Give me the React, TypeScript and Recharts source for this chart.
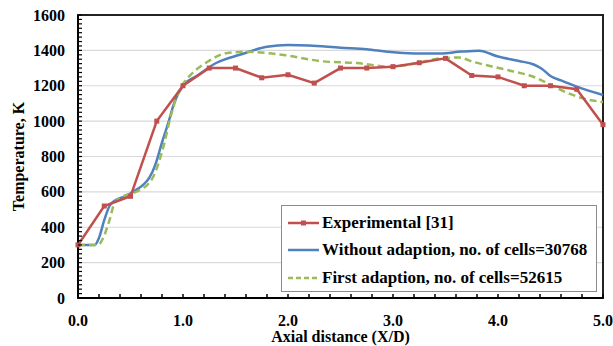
import {
  LineChart,
  Line,
  XAxis,
  YAxis,
  CartesianGrid,
  Legend,
  ReferenceArea,
} from "recharts";

const SERIF = '"Liberation Serif", "Times New Roman", serif';
const RED = "#c0504d";
const BLUE = "#4f81bd";
const GREEN = "#9bbb59";

// Experimental [31]
const expX = [0, 0.25, 0.5, 0.75, 1.0, 1.25, 1.5, 1.75, 2.0, 2.25, 2.5, 2.75, 3.0, 3.25, 3.5, 3.75, 4.0, 4.25, 4.5, 4.75, 5.0];
const expT = [300, 520, 575, 1000, 1200, 1300, 1300, 1245, 1262, 1215, 1300, 1300, 1308, 1330, 1355, 1258, 1250, 1200, 1200, 1180, 980];

// Without adaption, no. of cells=30768
const noAdaptX = [0, 0.16, 0.2, 0.25, 0.3, 0.35, 0.45, 0.55, 0.62, 0.68, 0.74, 0.8, 0.86, 0.92, 1.0, 1.13, 1.32, 1.54, 1.8, 2.0, 2.2, 2.5, 2.75, 2.95, 3.2, 3.45, 3.65, 3.82, 4.0, 4.2, 4.34, 4.42, 4.5, 4.6, 4.75, 5.0];
const noAdaptT = [300, 300, 340, 440, 520, 550, 575, 610, 640, 680, 760, 880, 990, 1110, 1200, 1255, 1330, 1375, 1420, 1430, 1428, 1415, 1407, 1392, 1382, 1383, 1393, 1398, 1365, 1340, 1320, 1295, 1255, 1230, 1195, 1148];

// First adaption, no. of cells=52615
const firstAdaptX = [0, 0.19, 0.24, 0.3, 0.35, 0.45, 0.53, 0.6, 0.66, 0.72, 0.76, 0.82, 0.88, 0.94, 1.0, 1.07, 1.23, 1.42, 1.6, 1.8, 2.0, 2.33, 2.66, 2.97, 3.1, 3.23, 3.45, 3.62, 3.77, 4.09, 4.37, 4.5, 4.66, 4.8, 5.0];
const firstAdaptT = [300, 300, 340, 440, 540, 580, 595, 615, 640, 690, 750, 870, 1020, 1136, 1210, 1260, 1334, 1385, 1392, 1385, 1370, 1338, 1328, 1308, 1315, 1328, 1355, 1360, 1334, 1289, 1243, 1205, 1160, 1130, 1108];

const xTicks = [0, 1, 2, 3, 4, 5];
const yTicks = [0, 200, 400, 600, 800, 1000, 1200, 1400, 1600];
// minor tick positions (labels only on the major values above)
const xMinor = Array.from({ length: 26 }, (_, i) => Math.round(i * 2) / 10);
const yMinor = Array.from({ length: 65 }, (_, i) => i * 25);

const legendItems = [
  { label: "Experimental [31]", color: RED, dash: undefined, marker: true },
  { label: "Without adaption, no. of cells=30768", color: BLUE, dash: undefined, marker: false },
  { label: "First adaption, no. of cells=52615", color: GREEN, dash: "5 3", marker: false },
];

const toRows = (xs: number[], ts: number[]) => xs.map((x, i) => ({ x, t: ts[i] }));
const expData = toRows(expX, expT);
const noAdaptData = toRows(noAdaptX, noAdaptT);
const firstAdaptData = toRows(firstAdaptX, firstAdaptT);

const axisFont = { fill: "#000", fontSize: 16, fontWeight: "bold", fontFamily: SERIF };

function SquareDot(props: any) {
  const { cx, cy, index } = props;
  if (cx == null || cy == null) return null;
  return <rect key={index} x={cx - 2.5} y={cy - 2.5} width={5} height={5} fill={RED} />;
}

function XTick(props: any) {
  const { x, y, payload } = props;
  const v = payload.value as number;
  const major = xTicks.some((t) => Math.abs(t - v) < 1e-6);
  return (
    <g>
      <line x1={x} y1={y} x2={x} y2={y - 4} stroke="#000" strokeWidth={1.5} />
      {major && (
        <text x={x} y={y + 28} textAnchor="middle" {...axisFont}>
          {v.toFixed(1)}
        </text>
      )}
    </g>
  );
}

function YTick(props: any) {
  const { x, y, payload } = props;
  const v = payload.value as number;
  const major = yTicks.includes(v);
  return (
    <g>
      <line x1={x} y1={y} x2={x + 4} y2={y} stroke="#000" strokeWidth={1.2} />
      {major && (
        <text x={x - 13} y={y} dy="0.35em" textAnchor="end" {...axisFont}>
          {v}
        </text>
      )}
    </g>
  );
}

function LegendBox() {
  return (
    <div
      style={{
        width: 316,
        height: 87,
        boxSizing: "border-box",
        background: "#fff",
        border: "1px solid #8c8c8c",
        padding: "3px 0 0 6px",
        fontFamily: SERIF,
        fontWeight: "bold",
        fontSize: 17,
        color: "#000",
        whiteSpace: "nowrap",
      }}
    >
      {legendItems.map((it) => (
        <div key={it.label} style={{ display: "flex", alignItems: "center", height: 27.5 }}>
          <svg width={32} height={10} style={{ marginRight: 2 }}>
            <line x1={0} y1={5} x2={31} y2={5} stroke={it.color} strokeWidth={2.5} strokeDasharray={it.dash} />
            {it.marker && <rect x={13} y={2.5} width={5} height={5} fill={it.color} />}
          </svg>
          <span>{it.label}</span>
        </div>
      ))}
    </div>
  );
}

export default function App() {
  return (
    <div style={{ position: "absolute", left: 0, top: 0 }}>
      <LineChart width={613} height={346} margin={{ top: 15, right: 10, left: 0, bottom: 0 }}>
        <CartesianGrid vertical={false} horizontalValues={yTicks} stroke="#d9d9d9" strokeWidth={1.2} />
        <XAxis
          dataKey="x"
          type="number"
          domain={[0, 5]}
          ticks={xMinor}
          interval={0}
          tick={XTick}
          tickLine={false}
          tickSize={0}
          tickMargin={0}
          height={48}
          axisLine={{ stroke: "#000", strokeWidth: 2 }}
          label={{
            value: "Axial distance (X/D)",
            position: "insideBottom",
            offset: 4,
            style: axisFont,
          }}
        />
        <YAxis
          type="number"
          domain={[0, 1600]}
          ticks={yMinor}
          interval={0}
          tick={YTick}
          tickLine={false}
          tickSize={0}
          tickMargin={0}
          width={78}
          axisLine={{ stroke: "#000", strokeWidth: 2 }}
          label={{
            value: "Temperature, K",
            angle: -90,
            position: "insideLeft",
            offset: 18,
            style: { ...axisFont, textAnchor: "middle" },
          }}
        />
        <ReferenceArea x1={0} x2={5} y1={0} y2={1600} fill="none" stroke="#222" strokeWidth={2} />
        <Line
          data={noAdaptData}
          dataKey="t"
          type="monotone"
          stroke={BLUE}
          strokeWidth={2.5}
          dot={false}
          isAnimationActive={false}
        />
        <Line
          data={firstAdaptData}
          dataKey="t"
          type="monotone"
          stroke={GREEN}
          strokeWidth={2.5}
          strokeDasharray="7 4"
          dot={false}
          isAnimationActive={false}
        />
        <Line
          data={expData}
          dataKey="t"
          type="linear"
          stroke={RED}
          strokeWidth={2.5}
          dot={SquareDot}
          isAnimationActive={false}
        />
        <Legend
          layout="vertical"
          align="center"
          verticalAlign="middle"
          content={() => <LegendBox />}
          wrapperStyle={{ left: 281, top: 205, width: 316, height: 87 }}
        />
      </LineChart>
    </div>
  );
}
